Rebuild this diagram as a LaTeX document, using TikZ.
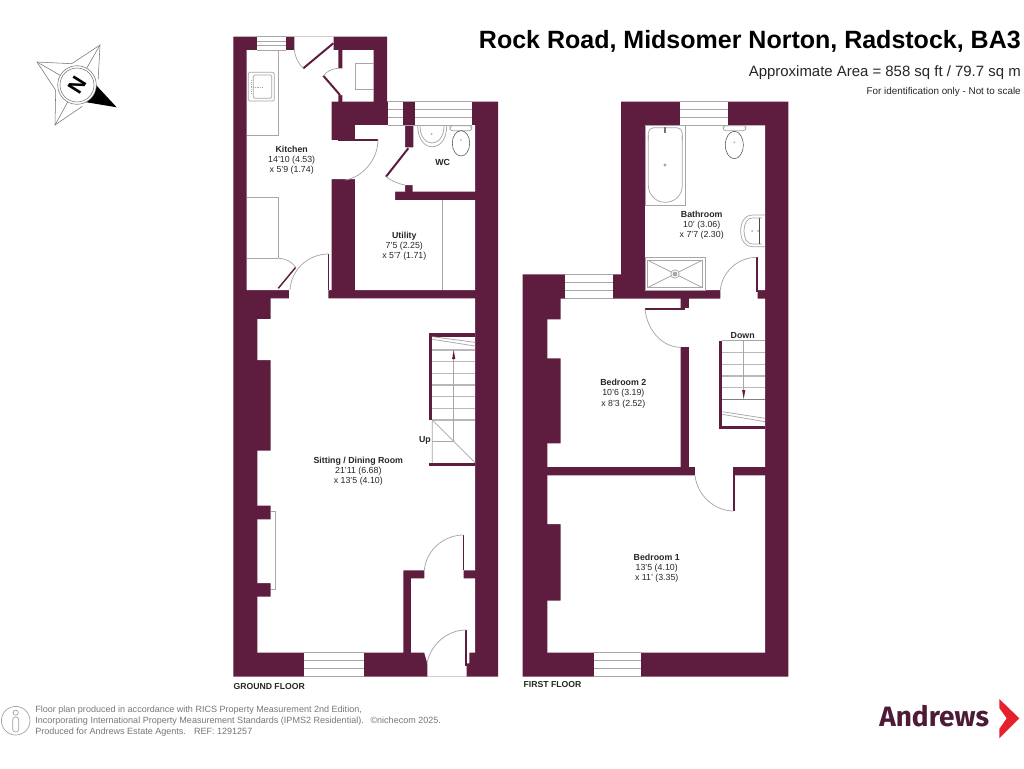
\documentclass[tikz,border=0pt]{standalone}
\usepackage{fontspec}
\setmainfont{Liberation Sans}
\newfontfamily\logofont{Fira Sans}
\definecolor{plum}{HTML}{5E1C3F}
\definecolor{fitting}{HTML}{A9A4A8}
\definecolor{footgrey}{HTML}{777777}
\definecolor{logoplum}{HTML}{4E1B36}
\definecolor{logored}{HTML}{E6212E}
\tikzset{
  wall/.style={fill=plum,draw=none},
  room/.style={fill=white,draw=none},
  fit/.style={draw=fitting,line width=0.55pt},
  fitdark/.style={draw=black!70,line width=0.4pt},
  leaf/.style={draw=plum,line width=1.5pt},
  swing/.style={draw=fitting,line width=0.55pt},
  tread/.style={draw=fitting!80!white,line width=0.9pt},
  compassline/.style={draw=black!55,line width=0.4pt},
  roomlabel/.style={align=center,font=\fontsize{6.6}{7.6}\selectfont,text=black!85,inner sep=0pt},
  boldlabel/.style={font=\fontsize{6.6}{7.6}\selectfont\bfseries,text=black!85,inner sep=0pt},
  floorlabel/.style={font=\fontsize{6.5}{7}\selectfont\bfseries,text=black!85,inner sep=0pt,anchor=west},
  footline/.style={font=\fontsize{6.78}{8}\selectfont,text=footgrey,inner sep=0pt,anchor=west},
}
\newcommand{\winH}[4]{% x1 x2 y1 y2
  \fill[white] (#1,#3) rectangle (#2,#4);
  \draw[fit] (#1,#3) -- (#2,#3) (#1,#4) -- (#2,#4) (#1,{#3+(#4-#3)*0.33}) -- (#2,{#3+(#4-#3)*0.33}) (#1,{#3+(#4-#3)*0.66}) -- (#2,{#3+(#4-#3)*0.66});}
\begin{document}
\begin{tikzpicture}[x=0.75pt,y=-0.75pt]
\useasboundingbox (0,0) rectangle (1024,768);
\fill[white] (0,0) rectangle (1024,768);
% ---------- GROUND FLOOR ----------
\fill[wall] (233.3,36.7) -- (387,36.7) -- (387,101.7) -- (498,101.7) -- (498,676.7) -- (233.3,676.7) -- cycle;
% kitchen and sitting room
\fill[room] (246.7,50) -- (294.3,50) -- (294.3,36.7) -- (333.7,36.7) -- (333.7,50) -- (338.3,50) -- (338.3,101.7) -- (331.7,101.7) -- (331.7,290) -- (328.3,290) -- (328.3,298.3) -- (475,298.3) -- (475,570.3) -- (463.7,570.3) -- (463.7,578.3) -- (475,578.3) -- (475,652.7) -- (469.3,652.7) -- (469.3,663.3) -- (466.7,663.3) -- (466.7,676.7) -- (427.3,676.7) -- (427.3,663.3) -- (424.3,652.7) -- (411,652.7) -- (411,578.3) -- (424.3,578.3) -- (424.3,570.3) -- (403.3,570.3) -- (403.3,652.7) -- (257.3,652.7) -- (257.3,596.7) -- (270.7,596.7) -- (270.7,583) -- (257.3,583) -- (257.3,519.3) -- (270.7,519.3) -- (270.7,505.7) -- (257.3,505.7) -- (257.3,450.7) -- (270.7,450.7) -- (270.7,360) -- (257.3,360) -- (257.3,319) -- (270.7,319) -- (270.7,298.3) -- (289,298.3) -- (289,290) -- (246.7,290) -- cycle;
% utility and WC
\fill[room] (331,140) -- (355,140) -- (355,125) -- (405,125) -- (405,147.3) -- (413.3,147.3) -- (413.3,125) -- (475,125) -- (475,191.7) -- (412.7,191.7) -- (412.7,185) -- (405,185) -- (405,191.7) -- (395,191.7) -- (395,200) -- (475,200) -- (475,290) -- (355,290) -- (355,179) -- (331,179) -- cycle;
% store
\fill[room] (342.3,50) -- (373.7,50) -- (373.7,101.7) -- (342.3,101.7) -- (342.3,95) -- (338,95) -- (338,68.3) -- (342.3,68.3) -- cycle;
% windows
\winH{257.3}{285.7}{36.7}{50}
\winH{388.3}{471.7}{101.7}{125}
\fill[wall] (403.3,101.7) rectangle (415,125);
\winH{304.3}{364.3}{652.7}{676.7}
% kitchen fittings
\draw[fit] (278.3,50) -- (278.3,135) -- (246.7,135);
\draw[fit,rounded corners=1pt] (248.3,72.3) rectangle (274.3,101);
\draw[fit,rounded corners=1pt] (253.3,75) rectangle (271.7,98.3);
\draw[fit,line width=0.4pt,densely dotted] (251,87) -- (264,87) (251,80) -- (251,94);
\draw[fit] (246.7,197.7) -- (278.3,197.7) -- (278.3,258.3) (246.7,258.3) -- (278.3,258.3);
\draw[leaf,line width=1.1pt] (278.3,288.3) -- (295.7,267.3);
\draw[swing] (278.3,258.3) to[bend left=25] (295.7,267.3);
\draw[leaf,line width=1.2pt] (328.3,290) -- (328.3,254);
\draw[swing] (290,290) .. controls (291,270) and (308,254) .. (328.3,254);
\draw[leaf] (333.3,43.3) -- (303.3,68.3);
\draw[swing] (294.3,50) to[bend right=18] (303.3,68.3);
\draw[leaf] (340,95) -- (323.3,75.7);
\draw[swing] (323.3,75.7) to[bend left=22] (338.3,68.3);
\draw[fit] (373.7,63.3) -- (355,63.3) -- (355,89.3) -- (373.7,89.3);
\draw[leaf] (338,139.5) -- (378,139.5);
\draw[swing] (378,139.5) .. controls (378,161) and (361,178) .. (345,180);
\draw[leaf] (408.3,148.3) -- (386,176.7);
\draw[swing] (386,176.7) to[bend right=12] (405,185);
% WC fittings
\draw[fit] (417.7,125.5) .. controls (417.7,140) and (425,146.7) .. (432,146.7) .. controls (440,146.7) and (446.7,140) .. (446.7,125.5);
\draw[fit] (420,126) .. controls (420,137) and (426,143) .. (432,143) .. controls (438,143) and (444,137) .. (444,126);
\fill[fitting] (431.5,134) circle (1);
\draw[fit,rounded corners=2pt] (450,125.7) rectangle (471.7,130.7);
\draw[fitdark] (461,143.3) ellipse (8.7 and 12.7);
\fill[fitting] (461,140) circle (0.8);
% utility
\draw[fit] (442.7,200) -- (442.7,290);
% stairs
\fill[wall] (429,333.3) rectangle (475,336.7);
\fill[wall] (429,333.3) rectangle (432.3,420);
\fill[wall] (429,462.7) rectangle (475,465.7);
\foreach \yy in {350,361.7,373.3,385,396.7,408.3,420} \draw[tread] (432.3,\yy) -- (475,\yy);
\draw[fit] (432.3,336.7) -- (475,342.3) (432.3,339.3) -- (475,346);
\draw[fit] (432.3,420) -- (432.3,462.7) (432.3,420) -- (475,462.7);
\draw[fit] (432.3,441.7) -- (453.7,441.7);
\draw[fit] (453.7,441.7) -- (453.7,355);
\fill[plum] (453.7,350) -- (455.3,359) -- (452.1,359) -- cycle;
\node[boldlabel] (up) at (425,440.7) {Up};
% fireplace
\draw[fit] (270.7,511.7) -- (275.7,511.7) -- (275.7,589.3) -- (270.7,589.3);
% doors in hall
\draw[leaf,line width=1.2pt] (463.5,535) -- (463.5,570.3);
\draw[swing] (424.3,570.3) .. controls (426,550) and (444,535) .. (463.5,535);
\draw[leaf,line width=1.2pt] (466,630) -- (466,666);
\draw[swing] (427,663.3) .. controls (430,646) and (446,630) .. (466,630);
% ---------- FIRST FLOOR ----------
\fill[wall] (621,101.7) -- (788.3,101.7) -- (788.3,676.7) -- (522.7,676.7) -- (522.7,274.3) -- (621,274.3) -- cycle;
% bathroom + landing
\fill[room] (645,125.3) -- (765,125.3) -- (765,290) -- (757.7,290) -- (757.7,298.7) -- (765,298.7) -- (765,467) -- (689,467) -- (689,308.3) -- (689,298.7) -- (720.3,298.7) -- (720.3,290) -- (645,290) -- cycle;
% door gap to bedroom 1 / landing
\fill[room] (695,467) rectangle (733.3,476);
% bedroom 2 door gap
\fill[room] (680,308.3) rectangle (690,347.3);
% bedroom 2
\fill[room] (560.7,298.7) -- (680.7,298.7) -- (680.7,467) -- (547.3,467) -- (547.3,443.3) -- (560.7,443.3) -- (560.7,358.3) -- (547.3,358.3) -- (547.3,319.3) -- (560.7,319.3) -- cycle;
% bedroom 1
\fill[room] (547.3,475.3) -- (765,475.3) -- (765,652.7) -- (547.3,652.7) -- (547.3,600.7) -- (560.7,600.7) -- (560.7,524) -- (547.3,524) -- cycle;
% stub and doors
\fill[wall] (680.7,298.7) rectangle (689,308.3);
\fill[wall] (680.7,347.3) rectangle (689,467);
\fill[wall] (547.3,467) rectangle (695,475.3);
\fill[wall] (733.3,467) rectangle (765,475.3);
\winH{680.3}{727.7}{101.7}{125.3}
\winH{565}{612.7}{274.3}{298.7}
\winH{593.7}{641}{652.7}{676.7}
\draw[leaf] (645,309) -- (685,309);
\draw[swing] (645,309) .. controls (647,330) and (662,347.3) .. (680.7,347.3);
\draw[leaf,line width=1.2pt] (734,475.3) -- (734,511);
\draw[swing] (695,475.3) .. controls (697,495) and (714,511) .. (734,511);
\draw[leaf,line width=1.2pt] (756.7,257.3) -- (756.7,291.7);
\draw[swing] (720.3,290) .. controls (722,272) and (738,257.3) .. (756.7,257.3);
% bath
\draw[fit] (645,125.3) rectangle (685.7,205);
\draw[fit] (648.3,135) -- (648.3,185) .. controls (648.3,195) and (656,202.3) .. (665.3,202.3) .. controls (675,202.3) and (682.3,195) .. (682.3,185) -- (682.3,135);
\draw[fit,rounded corners=4pt] (648.3,140) -- (648.3,127.7) -- (682.3,127.7) -- (682.3,140);
\draw[fit,fill=fitting] (665,165) circle (1);
\fill[fitting!70!black] (663.8,127) rectangle (666.2,133);
% toilet
\draw[fit,rounded corners=2pt] (723.3,125.7) rectangle (745.7,130.7);
\draw[fitdark] (734.3,145) ellipse (9 and 13.7);
\fill[fitting] (734.3,142.3) circle (0.9);
% basin
\draw[fit] (765,215) -- (752,215) .. controls (745,215) and (740.7,222) .. (740.7,231) .. controls (740.7,240) and (745,246.7) .. (752,246.7) -- (765,246.7);
\draw[fit] (762,218) -- (752,218) .. controls (747,218) and (744,224) .. (744,231) .. controls (744,238) and (747,244) .. (752,244) -- (762,244);
\draw[fitdark] (759.5,218) -- (759.5,244);
\fill[fitting] (752,231) circle (1);
\fill[fitting] (758,231) circle (1);
% shower
\draw[fit] (645,257.3) rectangle (705,290);
\draw[fit] (647.3,260) rectangle (702.7,287.7);
\draw[fit] (647.3,260) -- (702.7,287.7) (647.3,287.7) -- (702.7,260);
\draw[fit,fill=white] (675,274) circle (4.2);
\draw[fit,fill=fitting] (675,274) circle (2);
% upper stairs
\fill[wall] (719,340.7) rectangle (722.3,429);
\fill[wall] (719,425.7) rectangle (765,429);
\draw[fit] (722.3,340.7) -- (765,340.7);
\foreach \yy in {352.7,364.3,376,387.3} \draw[tread] (722.3,\yy) -- (765,\yy);
\draw[fit,draw=black!50] (722.3,399) -- (765,399);
\draw[fit] (722.3,411.7) -- (765,418.3) (722.3,414.3) -- (765,421.7);
\draw[fit] (743.7,340.7) -- (743.7,392);
\fill[plum] (743.7,399) -- (745.3,390) -- (742.1,390) -- cycle;
\node[boldlabel] (down) at (742.7,336) {Down};
% ---------- LABELS ----------
\node[roomlabel] (kitchen) at (291.7,160) {\textbf{Kitchen}\\14'10 (4.53)\\x 5'9 (1.74)};
\node[boldlabel] (wc) at (442.7,162) {WC};
\node[roomlabel] (utility) at (404.3,246.5) {\textbf{Utility}\\7'5 (2.25)\\x 5'7 (1.71)};
\node[roomlabel] (sitting) at (358.3,471.5) {\textbf{Sitting / Dining Room}\\21'11 (6.68)\\x 13'5 (4.10)};
\node[roomlabel] (bathroom) at (701.7,225.3) {\textbf{Bathroom}\\10' (3.06)\\x 7'7 (2.30)};
\node[roomlabel] (bed2) at (623.3,393.7) {\textbf{Bedroom 2}\\10'6 (3.19)\\x 8'3 (2.52)};
\node[roomlabel] (bed1) at (656.7,568.3) {\textbf{Bedroom 1}\\13'5 (4.10)\\x 11' (3.35)};
\node[floorlabel] (gf) at (233.3,687) {GROUND FLOOR};
\node[floorlabel] (ff) at (523.3,684.3) {FIRST FLOOR};
\node[anchor=east,inner sep=0pt,font=\fontsize{18.75}{20}\selectfont\bfseries] (title) at (1021,41) {Rock Road, Midsomer Norton, Radstock, BA3};
\node[anchor=east,inner sep=0pt,font=\fontsize{11.2}{12}\selectfont,text=black!85] (area) at (1021,73) {Approximate Area = 858 sq ft / 79.7 sq m};
\node[anchor=east,inner sep=0pt,font=\fontsize{7.4}{8}\selectfont,text=black!85] (scale) at (1021,91.5) {For identification only - Not to scale};
% footer
\node[footline] (f1) at (35,710) {Floor plan produced in accordance with RICS Property Measurement 2nd Edition,};
\node[footline] (f2) at (35,721) {Incorporating International Property Measurement Standards (IPMS2 Residential).\hspace{5pt}©nichecom 2025.};
\node[footline] (f3) at (35,732) {Produced for Andrews Estate Agents.\hspace{6pt}REF: 1291257};
\draw[footgrey!70,line width=0.5pt] (15.7,720.7) circle (14.3);
\draw[footgrey!70,line width=0.5pt] (15.7,712.7) circle (2.6);
\draw[footgrey!70,line width=0.5pt,rounded corners=2pt] (12.7,717) rectangle (18.7,732);
% logo
\node[anchor=base west,inner sep=0pt,font=\logofont\fontsize{21}{24}\selectfont\bfseries,text=logoplum] (logo) at (879,726) {Andrews};
\fill[logored] (999.3,699) -- (1019.3,718.3) -- (999.3,738.3) -- (999.3,729) -- (1006.7,718.3) -- (999.3,708) -- cycle;
% compass
\coordinate (cc) at (77,85);
\coordinate (tipN) at (100,45);
\coordinate (tipW) at (37,62);
\coordinate (tipS) at (55,125);
\coordinate (tipE) at (116.7,107.3);
\coordinate (v1) at (98.2,79.3);
\coordinate (v2) at (71.7,63.7);
\coordinate (v3) at (55.7,90.3);
\coordinate (v4) at (82.3,106.3);
\fill[black] (tipE) -- (96,85) -- (85,102) -- cycle;
\draw[compassline] (v1) -- (tipN) -- (v2) -- (tipW) -- (v3) -- (tipS) -- (v4);
\draw[compassline] (tipN) -- (cc) (tipW) -- (cc) (tipS) -- (cc);
\draw[compassline,fill=white] (cc) circle (19.3);
\draw[compassline] (cc) circle (17);
\node[rotate=58,inner sep=0pt,font=\fontsize{16}{18}\selectfont\bfseries] (north) at (cc) {N};
\end{tikzpicture}
\end{document}
